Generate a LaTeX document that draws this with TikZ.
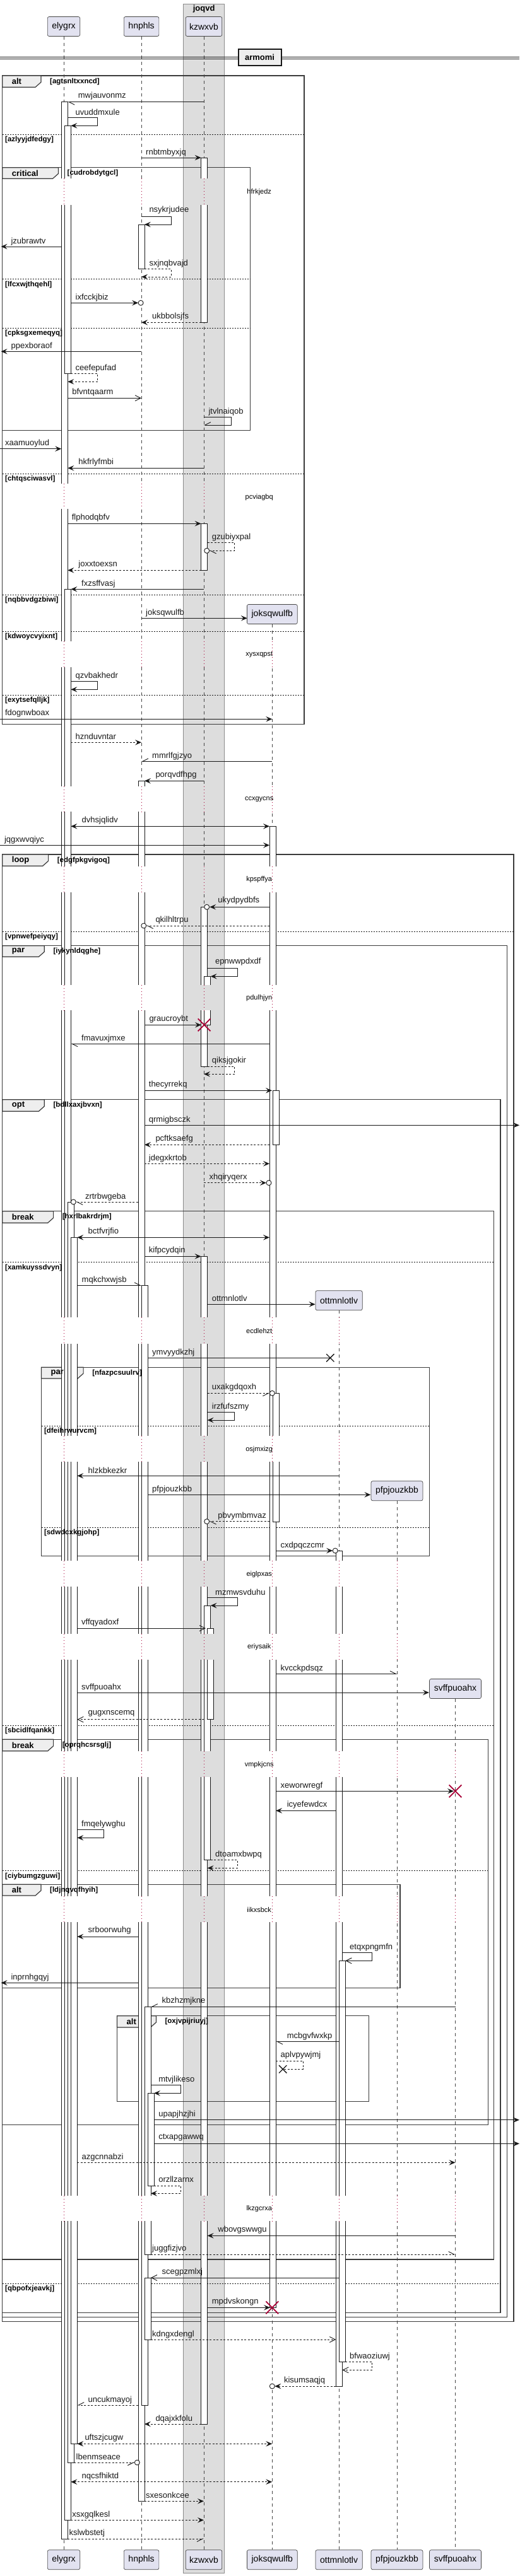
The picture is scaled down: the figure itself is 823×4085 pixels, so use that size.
\documentclass[tikz,border=0pt]{standalone}
\usepackage{fontspec}
\setmainfont{Liberation Sans}
\usetikzlibrary{arrows.meta,shapes.misc}
\definecolor{bandc}{HTML}{DDDDDD}
\definecolor{partc}{HTML}{E2E2F0}
\definecolor{dk}{HTML}{181818}
\definecolor{tabc}{HTML}{EEEEEE}
\definecolor{xred}{HTML}{A80036}
\pgfdeclarelayer{bandL}\pgfdeclarelayer{frameL}\pgfdeclarelayer{lifeL}
\pgfdeclarelayer{barL}\pgfdeclarelayer{delayL}\pgfdeclarelayer{topL}
\pgfsetlayers{bandL,frameL,lifeL,barL,delayL,main,topL}
\tikzset{
 msg/.style={draw=dk, line width=0.9pt},
 dsh/.style={dash pattern=on 3pt off 2.5pt},
 farr/.style={-{Stealth[length=10pt,width=8.5pt,inset=4pt]}},
 oarr/.style={-{Straight Barb[length=9pt,width=9pt]}},
 hlarr/.style={-{Straight Barb[harpoon,length=9pt,width=9pt]}},
 hrarr/.style={-{Straight Barb[harpoon,swap,length=9pt,width=9pt]}},
 biarr/.style={{Stealth[length=10pt,width=8.5pt,inset=4pt]}-{Stealth[length=10pt,width=8.5pt,inset=4pt]}},
 mlbl/.style={font=\fontsize{13}{15}\selectfont, inner sep=0pt, anchor=west, text=dk},
 clbl/.style={font=\bfseries\fontsize{11.5}{13}\selectfont, inner sep=0pt, anchor=west},
 klbl/.style={font=\bfseries\fontsize{13}{15}\selectfont, inner sep=0pt, anchor=west},
 dlbl/.style={font=\fontsize{11}{13}\selectfont, inner sep=0pt},
 partbox/.style={draw=dk!80, fill=partc, rounded corners=2.5pt, line width=0.7pt, minimum height=31pt, inner sep=0pt, font=\fontsize{14}{16}\selectfont},
 life/.style={draw=dk!80, line width=0.6pt, dash pattern=on 5pt off 5pt},
 dly/.style={draw=xred, line width=0.8pt, dash pattern=on 1pt off 4pt},
 barst/.style={draw=dk, fill=white, line width=0.8pt},
 frm/.style={draw=dk!85, line width=1.5pt},
 tabst/.style={draw=dk!85, fill=tabc, line width=1.2pt},
 sepst/.style={draw=dk, line width=0.8pt, dash pattern=on 2pt off 2pt},
 circend/.style={circle, draw=dk, line width=0.9pt, fill=white, minimum size=8pt, inner sep=0pt},
 redx/.style={cross out, draw=xred, line width=1.8pt, minimum size=18pt, inner sep=0pt},
 blkx/.style={cross out, draw=dk, line width=1.3pt, minimum size=11pt, inner sep=0pt},
}
\newcommand{\dgmsg}[7]{%
 \coordinate (#5-a) at (#2,#4);
 \coordinate (#5-b) at (#3,#4);
 \draw[msg,#1] (#5-a) -- (#5-b);
 \node[mlbl] (#5-t) at (#6,#7) {#5};}
\newcommand{\dgself}[9]{%
 \coordinate (#7-a) at (#2,#5);
 \coordinate (#7-b) at (#4,#6);
 \draw[msg,#1] (#7-a) -- (#3,#5) -- (#3,#6) -- (#7-b);
 \node[mlbl] (#7-t) at (#8,#9) {#7};}
\newcommand{\dgcirc}[2]{\node[circend] at (#1,#2) {};}
\newcommand{\dgframe}[8]{%
 \begin{pgfonlayer}{frameL}
 \draw[frm] (#1,#2) rectangle (#3,#4);
 \filldraw[tabst] (#1,#2) -- (#5,#2) -- (#5,#6-8) -- (#5-9,#6) -- (#1,#6) -- cycle;
 \end{pgfonlayer}
 \begin{pgfonlayer}{topL}
 \node[klbl] at ({#1+15},{(#2+#6)/2}) {#7};
 \node[clbl] at ({#5+14},{(#2+#6)/2}) {#8};
 \end{pgfonlayer}}
\newcommand{\dgsep}[4]{%
 \begin{pgfonlayer}{frameL}\draw[sepst] (#1,#3) -- (#2,#3);\end{pgfonlayer}
 \begin{pgfonlayer}{topL}\node[clbl] at ({#1+4.3},{#3+8.7}) {#4};\end{pgfonlayer}}
\newcommand{\dgcol}[6]{\fill[#6] (#1,#4) rectangle (#2,#5); \draw[dly] (#3,#4) -- (#3,#5);}
\newcommand{\dgdelay}[5]{%
 \begin{pgfonlayer}{delayL}
 \dgcol{96.5}{123.5}{101}{#1}{#2}{white}
 \dgcol{218.2}{245}{224.1}{#1}{#2}{white}
 \dgcol{317.9}{339.5}{323}{#1}{#2}{bandc}
 \ifnum#5>0 \dgcol{426.4}{443}{431.3}{#1}{#2}{white}\fi
 \ifnum#5>1 \dgcol{531.6}{548}{537.1}{#1}{#2}{white}\fi
 \ifnum#5>2 \dgcol{627}{631}{629}{#1}{#2}{white}\fi
 \ifnum#5>3 \dgcol{719.5}{723.5}{721.5}{#1}{#2}{white}\fi
 \end{pgfonlayer}
 \begin{pgfonlayer}{topL}\node[dlbl] at (410.7,#4) {#3};\end{pgfonlayer}}
\newcommand{\dgbar}[3]{\begin{pgfonlayer}{barL}\filldraw[barst] (#1,#2) rectangle (#1+10,#3);\end{pgfonlayer}}
\begin{document}
\begin{tikzpicture}[x=1pt,y=-1pt]
\useasboundingbox (0,0) rectangle (823,4085);
% box joqvd
\begin{pgfonlayer}{bandL}
\fill[white] (0,0) rectangle (823,4085);
\filldraw[fill=bandc, draw=black!45, line width=0.6pt] (290.7,6) rectangle (355.7,4080);
\end{pgfonlayer}
\node[font=\bfseries\fontsize{13}{15}\selectfont] (bt) at (323.2,14.3) {joqvd};
% participants
\begin{pgfonlayer}{topL}
\node[partbox, minimum width=51.3pt] (pE) at (101,42) {elygrx};
\node[partbox, minimum width=55.5pt] (pH) at (224.1,42) {hnphls};
\node[partbox, minimum width=57.6pt] (pK) at (323,42) {kzwxvb};
\node[partbox, minimum width=79.8pt] (pJ) at (431.3,974) {joksqwulfb};
\node[partbox, minimum width=74.1pt] (pO) at (537.1,2062.2) {ottmnlotlv};
\node[partbox, minimum width=81.9pt] (pP) at (629,2364.2) {pfpjouzkbb};
\node[partbox, minimum width=81.9pt] (pS) at (721.5,2678) {svffpuoahx};
\node[partbox, minimum width=51.3pt] (fE) at (101,4059.2) {elygrx};
\node[partbox, minimum width=55.5pt] (fH) at (224.1,4059.2) {hnphls};
\node[partbox, minimum width=57.6pt] (fK) at (323,4059.2) {kzwxvb};
\node[partbox, minimum width=79.8pt] (fJ) at (431.3,4059.2) {joksqwulfb};
\node[partbox, minimum width=74.1pt] (fO) at (537.1,4059.2) {ottmnlotlv};
\node[partbox, minimum width=81.9pt] (fP) at (629,4059.2) {pfpjouzkbb};
\node[partbox, minimum width=81.9pt] (fS) at (721.5,4059.2) {svffpuoahx};
\end{pgfonlayer}
\begin{pgfonlayer}{lifeL}
\draw[life] (pE.south) -- (fE.north);
\draw[life] (pH.south) -- (fH.north);
\draw[life] (pK.south) -- (fK.north);
\draw[life] (pJ.south) -- (fJ.north);
\draw[life] (pO.south) -- (fO.north);
\draw[life] (pP.south) -- (fP.north);
\draw[life] (pS.south) -- (fS.north);
\end{pgfonlayer}
% divider
\draw[dk, line width=1pt] (0,90) -- (823,90) (0,93.3) -- (823,93.3);
\node[draw=dk, line width=2pt, fill=tabc, minimum width=68pt, minimum height=26pt, inner sep=0pt, font=\bfseries\fontsize{13}{15}\selectfont] (dv) at (411.5,90.85) {armomi};
% frames
\dgframe{3.7}{120}{482}{1148.3}{65}{138.3}{alt}{[agtsnltxxncd]}
\dgsep{3.7}{482}{213}{[azlyyjdfedgy]}
\dgsep{3.7}{482}{751}{[chtqsciwasvl]}
\dgsep{3.7}{482}{943.3}{[nqbbvdgzbiwi]}
\dgsep{3.7}{482}{1001.3}{[kdwoycvyixnt]}
\dgsep{3.7}{482}{1102}{[exytsefqlljk]}
\dgframe{3.7}{265.7}{396.4}{682.3}{92.5}{283.3}{critical}{[cudrobdytgcl]}
\dgsep{3.7}{396.4}{442.7}{[lfcxwjthqehl]}
\dgsep{3.7}{396.4}{520.3}{[cpksgxemeqyq]}
\dgframe{3.7}{1355}{814}{3681.7}{76.6}{1373.3}{loop}{[edgfpkgvigoq]}
\dgsep{3.7}{814}{1477.3}{[vpnwefpeiyqy]}
\dgframe{3.7}{1499.7}{803.5}{3674.3}{70.3}{1517.3}{par}{[iykynldqghe]}
\dgframe{3.7}{1743.7}{792.9}{3667.3}{70.3}{1762.3}{opt}{[bdllxaxjbvxn]}
\dgsep{3.7}{792.9}{3621}{[qbpofxjeavkj]}
\dgframe{3.7}{1920.7}{782.3}{3583}{84.6}{1939.3}{break}{[hxrlbakrdrjm]}
\dgsep{3.7}{782.3}{2001.3}{[xamkuyssdvyn]}
\dgsep{3.7}{782.3}{2736}{[sbcidlfqankk]}
\dgframe{65.5}{2168.3}{680.3}{2467.3}{132.1}{2186}{par}{[nfazpcsuulrv]}
\dgsep{65.5}{680.3}{2261}{[dfeihrwurvcm]}
\dgsep{65.5}{680.3}{2422.3}{[sdwdcxkgjohp]}
\dgframe{3.7}{2758.3}{773.3}{3369.3}{84.6}{2776.7}{break}{[oprqhcsrsglj]}
\dgsep{3.7}{773.3}{2966.7}{[ciybumgzguwi]}
\dgframe{3.7}{2988.3}{633.8}{3152.3}{65}{3006}{alt}{[ldjnqvqfhyih]}
\dgframe{185.5}{3196.7}{584.6}{3332.3}{247.4}{3215}{alt}{[oxjvpijriuyj]}
% activation bars
\dgbar{97.3}{161.7}{4026}
\dgbar{102.3}{199.3}{592.3}
\dgbar{102.3}{934.3}{3996.3}
\dgbar{107.3}{1906}{3905}
\dgbar{112.3}{1962.3}{3875.3}
\dgbar{218.9}{356}{426.7}
\dgbar{218.9}{1238.3}{3966.3}
\dgbar{223.9}{2038.3}{3814}
\dgbar{228.9}{3182.3}{3575}
\dgbar{233.9}{3319.3}{3466}
\dgbar{228.9}{3612}{3710}
\dgbar{318.6}{250}{511.3}
\dgbar{318.6}{830.3}{904.3}
\dgbar{318.6}{1438.3}{1691}
\dgbar{323.6}{1548.3}{1625.3}
\dgbar{318.6}{1992.3}{3844}
\dgbar{323.6}{2546}{2949.7}
\dgbar{328.6}{2582}{2726.7}
\dgbar{427.1}{1310.3}{3659.3}
\dgbar{432.1}{1729.3}{1815.3}
\dgbar{432.1}{2209.3}{2413.3}
\dgbar{532.3}{2459}{3784}
\dgbar{537.3}{3109.3}{3745}
% delays
\dgdelay{283.3}{325}{hfrkjedz}{305}{0}
\dgdelay{766.7}{806.7}{pcviagbq}{788.7}{0}
\dgdelay{1016.7}{1058.3}{xysxqpst}{1038.3}{1}
\dgdelay{1246.7}{1287.3}{ccxgycns}{1267.3}{1}
\dgdelay{1374}{1415}{kpspffya}{1395}{1}
\dgdelay{1561.7}{1602.3}{pdulhjyn}{1582.3}{1}
\dgdelay{2089.3}{2130.7}{ecdlehzt}{2111}{2}
\dgdelay{2276.7}{2318.3}{osjmxizg}{2298.3}{2}
\dgdelay{2475}{2516}{eiglpxas}{2496.7}{3}
\dgdelay{2590.7}{2631.7}{eriysaik}{2611.7}{3}
\dgdelay{2777.3}{2818.3}{vmpkjcns}{2798.3}{4}
\dgdelay{3007.3}{3048.3}{iikxsbck}{3028.3}{4}
\dgdelay{3481.7}{3522.3}{lkzgcrxa}{3502.7}{4}
% messages
\dgmsg{hlarr}{323}{107.3}{161.7}{mwjauvonmz}{123.7}{151.7}
\dgself{farr}{107.3}{154.4}{112.3}{186.7}{199.3}{uvuddmxule}{119.5}{177.7}
\dgmsg{farr}{224.1}{318.6}{250}{rnbtmbyxjq}{231}{241.7}
\dgself{farr}{224.1}{271.2}{228.9}{343.3}{356}{nsykrjudee}{236.3}{333.3}
\dgmsg{farr}{97.3}{1.6}{391}{jzubrawtv}{17.4}{382.7}
\dgself{dsh,farr}{228.9}{271.2}{224.1}{426.7}{439}{sxjnqbvajd}{236.3}{417.7}
\dgmsg{farr}{112.3}{219.1}{480.3}{ixfcckjbiz}{119.5}{471.7}
\dgcirc{223.1}{480.3}
\dgmsg{dsh,farr}{318.6}{224.1}{511.3}{ukbbolsjfs}{241}{501.7}
\dgmsg{farr}{224.1}{1.6}{557.3}{ppexboraof}{17.4}{549}
\dgself{dsh,farr}{112.3}{154.4}{107.3}{592.3}{605.3}{ceefepufad}{119.5}{584}
\dgmsg{oarr}{107.3}{224.1}{631.3}{bfvntqaarm}{114.2}{622}
\dgself{hrarr}{323}{366.3}{323}{661.7}{674}{jtvlnaiqob}{330.4}{652.7}
\dgmsg{farr}{0}{97.3}{711.7}{xaamuoylud}{7.9}{702.7}
\dgmsg{farr}{323}{107.3}{742.3}{hkfrlyfmbi}{124.2}{732.7}
\dgmsg{farr}{107.3}{318.6}{830.3}{flphodqbfv}{113.6}{820.7}
\dgself{dsh,hlarr}{328.6}{371.6}{331.7}{860.3}{873.3}{gzubiyxpal}{335.7}{851.7}
\dgcirc{327.7}{873.3}
\dgmsg{dsh,farr}{318.6}{107.3}{904.3}{joxxtoexsn}{124.2}{894.7}
\dgmsg{farr}{323}{112.3}{934.3}{fxzsffvasj}{129}{926}
\dgmsg{farr}{224.1}{391.8}{980.3}{joksqwulfb}{231}{972}
\dgself{farr}{112.3}{154.4}{112.3}{1080.3}{1093.3}{qzvbakhedr}{119.5}{1071.7}
\dgmsg{farr}{0}{431.3}{1140.3}{fdognwboax}{7.9}{1130.7}
\dgmsg{dsh,farr}{112.3}{224.1}{1177.3}{hznduvntar}{119.5}{1168.3}
\dgmsg{hrarr}{431.3}{224.1}{1207.3}{mmrlfgjzyo}{241}{1199}
\dgmsg{farr}{323}{228.9}{1238.3}{porqvdfhpg}{246.3}{1229}
\dgmsg{biarr}{112.3}{427.1}{1310.3}{dvhsjqlidv}{129.5}{1300.7}
\dgmsg{farr}{0}{427.1}{1340.3}{jqgxwvqiyc}{6.9}{1331.7}
\dgmsg{farr}{427.1}{332.2}{1438.3}{ukydpydbfs}{345.2}{1428.3}
\dgcirc{327.7}{1438.3}
\dgmsg{dsh,hlarr}{427.1}{231.8}{1468}{qkilhltrpu}{246.3}{1459.3}
\dgcirc{227.8}{1468}
\dgself{farr}{328.6}{376.4}{333.6}{1535.3}{1548.3}{epnwwpdxdf}{341}{1525.3}
\dgmsg{farr}{228.9}{319}{1625.3}{graucroybt}{236.3}{1616}
\dgmsg{hlarr}{427.1}{112.3}{1655.3}{fmavuxjmxe}{129}{1646.7}
\dgself{dsh,farr}{328.6}{371.6}{323}{1691}{1703.3}{qiksjgokir}{335.7}{1681.7}
\dgmsg{farr}{228.9}{431}{1729.3}{thecyrrekq}{235.7}{1720}
\dgmsg{farr}{228.9}{823}{1784.3}{qrmigbsczk}{235.7}{1776}
\dgmsg{dsh,farr}{427.1}{228.9}{1815.3}{pcftksaefg}{246.3}{1806}
\dgmsg{dsh,farr}{228.9}{427.1}{1845.3}{jdegxkrtob}{235.7}{1836.7}
\dgmsg{dsh,farr}{323}{422}{1875.7}{xhqiryqerx}{331.4}{1866.7}
\dgcirc{426}{1875.7}
\dgmsg{dsh,hlarr}{218.9}{120.3}{1906}{zrtrbwgeba}{134.8}{1897.7}
\dgcirc{116.3}{1906}
\dgmsg{biarr}{122.3}{427.1}{1962.3}{bctfvrjfio}{139.5}{1953}
\dgmsg{farr}{228.9}{318.6}{1992.3}{kifpcydqin}{235.7}{1983.3}
\dgmsg{hlarr}{122.3}{223.9}{2038.3}{mqkchxwjsb}{129.5}{2030}
\dgmsg{farr}{328.6}{499.6}{2068.3}{ottmnlotlv}{335.7}{2059.3}
\dgmsg{}{233.9}{523.3}{2153.3}{ymvyydkzhj}{241}{2144.7}
\dgmsg{dsh,hrarr}{328.6}{427.3}{2209.3}{uxakgdqoxh}{335.7}{2200}
\dgcirc{431.3}{2209.3}
\dgself{farr}{328.6}{371.1}{328.6}{2239.3}{2252}{irzfufszmy}{335.7}{2230.7}
\dgmsg{farr}{537.1}{122.3}{2340.3}{hlzkbkezkr}{139.5}{2331.7}
\dgmsg{farr}{233.9}{587.4}{2370.3}{pfpjouzkbb}{241}{2361.7}
\dgmsg{dsh,hlarr}{427.1}{331.7}{2412.7}{pbvymbmvaz}{345.2}{2404.3}
\dgcirc{327.7}{2412.7}
\dgmsg{farr}{437.1}{527.2}{2459}{cxdpqczcmr}{444.5}{2450.7}
\dgcirc{531.2}{2459}
\dgself{farr}{328.6}{376.4}{333.6}{2533.3}{2546}{mzmwsvduhu}{341}{2525}
\dgmsg{oarr}{122.3}{326}{2582}{vffqyadoxf}{129}{2572.7}
\dgmsg{hlarr}{437.1}{629}{2654.3}{kvcckpdsqz}{444.5}{2645.7}
\dgmsg{farr}{122.3}{679.9}{2684}{svffpuoahx}{129}{2675.7}
\dgmsg{dsh,oarr}{323}{122.3}{2726.7}{gugxnscemq}{139.5}{2717.7}
\dgmsg{farr}{437.1}{719}{2840.3}{xeworwregf}{444.5}{2831.7}
\dgmsg{farr}{532.3}{437.1}{2871.3}{icyefewdcx}{454.6}{2861.7}
\dgself{farr}{122.3}{164.4}{122.3}{2901.7}{2914.3}{fmqelywghu}{129}{2892.7}
\dgself{dsh,farr}{333.6}{376.4}{328.6}{2949.7}{2962.3}{dtoamxbwpq}{341}{2940.7}
\dgmsg{farr}{218.9}{122.3}{3071}{srboorwuhg}{139.5}{3060.7}
\dgself{oarr}{542.3}{589.4}{547.3}{3096.7}{3109.3}{etqxpngmfn}{554}{3088.3}
\dgmsg{farr}{218.9}{1.6}{3144.3}{inprnhgqyj}{17.4}{3136}
\dgmsg{hrarr}{721.5}{238.9}{3182.3}{kbzhzmjkne}{256.4}{3172.7}
\dgmsg{hlarr}{537.3}{437.1}{3237.3}{mcbgvfwxkp}{454.6}{3229}
\dgself{dsh}{437.1}{480}{448.2}{3268.3}{3281.3}{aplvpywjmj}{444.5}{3259.3}
\dgself{farr}{238.9}{286.5}{243.9}{3306.7}{3319.3}{mtvjlikeso}{251.1}{3297.7}
\dgmsg{farr}{243.9}{823}{3361.7}{upapjhzjhi}{251.1}{3353.3}
\dgmsg{farr}{243.9}{823}{3399.3}{ctxapgawwq}{251.1}{3390}
\dgmsg{dsh,farr}{122.3}{721.5}{3429.3}{azgcnnabzi}{129.5}{3420.7}
\dgself{dsh,farr}{243.9}{286.5}{238.9}{3466}{3478.3}{orzllzarnx}{251.1}{3456}
\dgmsg{farr}{721.5}{328.6}{3545.3}{wbovgswwgu}{345.2}{3536}
\dgmsg{dsh,hlarr}{238.9}{721.5}{3575}{juggfizjvo}{241}{3566}
\dgmsg{oarr}{537.1}{238.9}{3612}{scegpzmlxj}{256.4}{3603.3}
\dgmsg{farr}{328.6}{428}{3659.3}{mpdvskongn}{335.7}{3649.7}
\dgmsg{dsh,oarr}{238.9}{532.3}{3710}{kdngxdengl}{241}{3702}
\dgself{dsh,oarr}{547.3}{589.4}{542.3}{3745}{3758.3}{bfwaoziuwj}{554}{3736.7}
\dgmsg{dsh,farr}{532.3}{435.3}{3784}{kisumsaqjq}{449.8}{3775}
\dgcirc{431.3}{3784}
\dgmsg{dsh,hrarr}{218.9}{122.3}{3814}{uncukmayoj}{139.5}{3806}
\dgmsg{dsh,farr}{318.6}{228.9}{3844}{dqajxkfolu}{246.3}{3835.7}
\dgmsg{dsh,biarr}{122.3}{431.3}{3875.3}{uftszjcugw}{134.3}{3865.7}
\dgmsg{dsh,hrarr}{117.3}{213.3}{3905}{lbenmseace}{120.5}{3896.3}
\dgcirc{217.3}{3905}
\dgmsg{dsh,biarr}{112.3}{431.3}{3935.7}{nqcsfhiktd}{129.5}{3926.7}
\dgmsg{dsh,farr}{228.9}{323}{3966.3}{sxesonkcee}{231}{3956.7}
\dgmsg{dsh,farr}{112.3}{323}{3996.3}{xsxgqlkesl}{114.2}{3987.7}
\dgmsg{dsh,hrarr}{107.3}{323}{4026}{kslwbstetj}{109.4}{4017.3}
% destroy / lost marks
\begin{pgfonlayer}{topL}
\node[redx] (x1) at (323.6,1625.3) {};
\node[redx] (x2) at (721.5,2840.3) {};
\node[redx] (x3) at (431.3,3659.3) {};
\node[blkx] (x4) at (523.3,2153.3) {};
\node[blkx] (x5) at (448.2,3281.3) {};
\end{pgfonlayer}
\end{tikzpicture}
\end{document}
